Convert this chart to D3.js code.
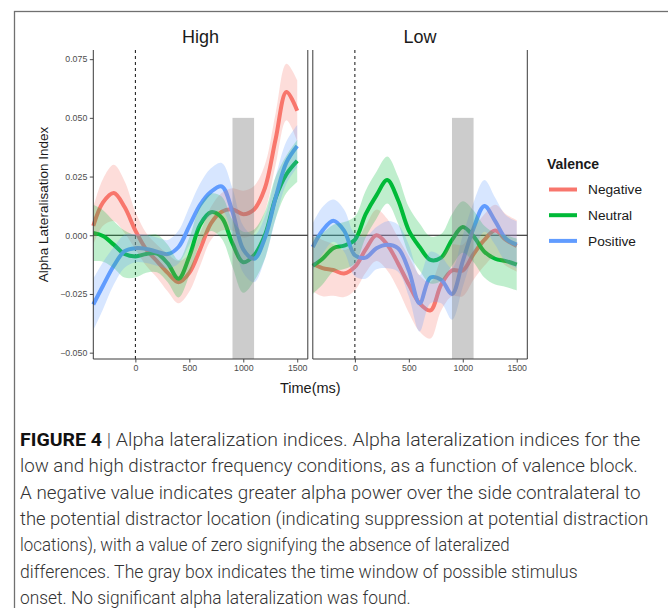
<!DOCTYPE html>
<meta charset="utf-8">
<head>
  <title>Alpha lateralization indices</title>
  <style>
    body { margin: 0; background: #fff; }
    svg { display: block; }
  </style>
</head>
<body>
<script src="https://d3js.org/d3.v7.min.js"></script>
<script>
var WIDTH = 668,
    HEIGHT = 608,
    PANEL_W = 214.5,
    PANEL_TOP = 50,
    PANEL_BOTTOM = 359;

// time axis (ms) shared by every series
var times = [-390, -300, -200, -100, 0, 100, 200, 300, 400, 500, 600, 700, 800, 900, 1000, 1100, 1200, 1300, 1400, 1500];

var valences = ["Negative", "Neutral", "Positive"];
var colours = ["#F8766D", "#00BA38", "#619CFF"];

// High distractor frequency: mean index and ribbon half width
var highNegative   = [0.004, 0.014, 0.018, 0.012, 0.002, -0.006, -0.011, -0.016, -0.020, -0.016, -0.006, 0.005, 0.010, 0.011, 0.009, 0.011, 0.020, 0.041, 0.061, 0.053];
var highNeutral    = [0.001, -0.0003, -0.004, -0.008, -0.009, -0.008, -0.0078, -0.012, -0.0185, -0.009, 0.0045, 0.0098, 0.0075, -0.0035, -0.0115, -0.0085, 0.0, 0.016, 0.026, 0.0317];
var highPositive   = [-0.0295, -0.0215, -0.013, -0.0068, -0.0055, -0.0058, -0.007, -0.008, -0.005, 0.004, 0.013, 0.0185, 0.0208, 0.010, -0.006, -0.010, -0.0012, 0.016, 0.031, 0.038];
var highNegativeCI = [0.008, 0.010, 0.012, 0.011, 0.008, 0.007, 0.007, 0.008, 0.009, 0.008, 0.007, 0.007, 0.008, 0.009, 0.010, 0.010, 0.010, 0.011, 0.012, 0.013];
var highNeutralCI  = [0.012, 0.011, 0.010, 0.010, 0.009, 0.008, 0.008, 0.008, 0.008, 0.008, 0.008, 0.008, 0.009, 0.010, 0.013, 0.011, 0.010, 0.009, 0.008, 0.009];
var highPositiveCI = [0.011, 0.010, 0.008, 0.007, 0.006, 0.006, 0.006, 0.006, 0.007, 0.008, 0.009, 0.010, 0.010, 0.010, 0.010, 0.010, 0.009, 0.009, 0.009, 0.009];

// Low distractor frequency
var lowNegative   = [-0.012, -0.014, -0.0148, -0.0163, -0.0135, -0.006, 0.0, -0.004, -0.012, -0.021, -0.029, -0.032, -0.021, -0.015, -0.015, -0.008, -0.002, 0.002, -0.002, -0.0045];
var lowNeutral    = [-0.013, -0.010, -0.0055, -0.0044, -0.002, 0.009, 0.017, 0.0235, 0.015, 0.002, -0.005, -0.0105, -0.0095, -0.002, 0.0035, -0.0005, -0.007, -0.010, -0.011, -0.0125];
var lowPositive   = [-0.005, 0.002, 0.0062, 0.002, -0.0085, -0.0095, -0.0055, -0.004, -0.0055, -0.015, -0.029, -0.018, -0.019, -0.025, -0.011, 0.003, 0.0125, 0.006, -0.0015, -0.004];
var lowNegativeCI = [0.012, 0.012, 0.011, 0.010, 0.010, 0.010, 0.011, 0.011, 0.011, 0.012, 0.012, 0.012, 0.011, 0.011, 0.011, 0.011, 0.011, 0.011, 0.011, 0.011];
var lowNeutralCI  = [0.012, 0.011, 0.010, 0.010, 0.010, 0.010, 0.010, 0.010, 0.010, 0.010, 0.010, 0.010, 0.010, 0.011, 0.011, 0.011, 0.011, 0.011, 0.011, 0.011];
var lowPositiveCI = [0.010, 0.010, 0.009, 0.009, 0.009, 0.009, 0.009, 0.010, 0.010, 0.011, 0.012, 0.011, 0.010, 0.011, 0.011, 0.011, 0.011, 0.010, 0.010, 0.010];

var yTicks = [-0.050, -0.025, 0.000, 0.025, 0.050, 0.075];
var xTicks = [0, 500, 1000, 1500];
var onsetWindow = [900, 1100];
var onsetTop = 0.05;

var captionLines = [
  ["FIGURE 4", "Alpha lateralization indices. Alpha lateralization indices for the"],
  [null, "low and high distractor frequency conditions, as a function of valence block."],
  [null, "A negative value indicates greater alpha power over the side contralateral to"],
  [null, "the potential distractor location (indicating suppression at potential distraction"],
  [null, "locations), with a value of zero signifying the absence of lateralized"],
  [null, "differences. The gray box indicates the time window of possible stimulus"],
  [null, "onset. No significant alpha lateralization was found."]
];
var captionEnds = [641, 638, 641, 649, 510, 578, 411];

var panels = [
  {name: "High", left: 93.3, yAxis: true,
   means: [highNegative, highNeutral, highPositive],
   cis: [highNegativeCI, highNeutralCI, highPositiveCI]},
  {name: "Low", left: 312.8, yAxis: false,
   means: [lowNegative, lowNeutral, lowPositive],
   cis: [lowNegativeCI, lowNeutralCI, lowPositiveCI]}
];

var svg = d3.select("body").append("svg")
    .attr("width", WIDTH)
    .attr("height", HEIGHT)
    .style("font-family", "'Liberation Sans', Arial, sans-serif");

// outer frame of the figure
svg.append("rect")
    .attr("x", 14.5).attr("y", 11.5)
    .attr("width", 680).attr("height", 640)
    .attr("fill", "none")
    .attr("stroke", "#707070")
    .attr("stroke-width", 1.3);

var y = d3.scaleLinear()
    .domain([-0.0527, 0.0789])
    .range([PANEL_BOTTOM, PANEL_TOP]);

panels.forEach(function(p) {
  var x = d3.scaleLinear()
      .domain([-390, 1598])
      .range([p.left, p.left + PANEL_W]);

  var g = svg.append("g");

  // strip title
  g.append("text")
      .attr("x", p.left + PANEL_W / 2)
      .attr("y", 43)
      .attr("text-anchor", "middle")
      .style("font-size", "18px")
      .attr("fill", "#1a1a1a")
      .text(p.name);

  // zero line and stimulus onset marker
  g.append("line")
      .attr("x1", p.left).attr("x2", p.left + PANEL_W)
      .attr("y1", y(0)).attr("y2", y(0))
      .attr("stroke", "#111").attr("stroke-width", 1);
  g.append("line")
      .attr("x1", x(0)).attr("x2", x(0))
      .attr("y1", PANEL_TOP).attr("y2", PANEL_BOTTOM)
      .attr("stroke", "#111").attr("stroke-width", 1)
      .attr("stroke-dasharray", "3,3");

  var line = d3.line()
      .x(function(d) { return x(d[0]); })
      .y(function(d) { return y(d[1]); })
      .curve(d3.curveCatmullRom.alpha(0.5));

  var area = d3.area()
      .x(function(d) { return x(d[0]); })
      .y0(function(d) { return y(d[1] - d[2]); })
      .y1(function(d) { return y(d[1] + d[2]); })
      .curve(d3.curveCatmullRom.alpha(0.5));

  var rows = p.means.map(function(m, k) {
    return times.map(function(t, i) { return [t, m[i], p.cis[k][i]]; });
  });

  rows.forEach(function(r, k) {
    g.append("path")
        .attr("d", line(r))
        .attr("fill", "none")
        .attr("stroke", colours[k])
        .attr("stroke-width", 4)
        .attr("stroke-linejoin", "round");
  });

  rows.forEach(function(r, k) {
    g.append("path")
        .attr("d", area(r))
        .attr("fill", colours[k])
        .attr("fill-opacity", 0.25);
  });

  // possible onset window
  g.append("rect")
      .attr("x", x(onsetWindow[0]))
      .attr("width", x(onsetWindow[1]) - x(onsetWindow[0]))
      .attr("y", y(onsetTop))
      .attr("height", PANEL_BOTTOM - y(onsetTop))
      .attr("fill", "#7f7f7f")
      .attr("fill-opacity", 0.4);

  // axes
  var xAxis = g.append("g")
      .attr("transform", "translate(0," + PANEL_BOTTOM + ")")
      .call(d3.axisBottom(x).tickValues(xTicks).tickFormat(d3.format("d"))
        .tickSize(3.5).tickPadding(2.5).tickSizeOuter(0));
  xAxis.select(".domain").remove();
  xAxis.selectAll("text").style("font-size", "8.8px").attr("fill", "#4d4d4d");
  xAxis.selectAll("line").attr("stroke", "#4d4d4d");

  if (p.yAxis) {
    var yAxis = g.append("g")
        .attr("transform", "translate(" + p.left + ",0)")
        .call(d3.axisLeft(y).tickValues(yTicks).tickFormat(d3.format(".3f")).tickSize(3.5).tickPadding(2.5));
    yAxis.select(".domain").remove();
    yAxis.selectAll("text").style("font-size", "8.8px").attr("fill", "#4d4d4d");
    yAxis.selectAll("line").attr("stroke", "#4d4d4d");
  }

  // panel lines: left, right, bottom
  g.append("path")
      .attr("d", "M" + p.left + "," + PANEL_TOP + "V" + PANEL_BOTTOM + "H" + (p.left + PANEL_W) + "V" + PANEL_TOP)
      .attr("fill", "none")
      .attr("stroke", "#3a3a3a")
      .attr("stroke-width", 1);
});

// axis titles
svg.append("text")
    .attr("x", (93.3 + 527.3) / 2)
    .attr("y", 393)
    .attr("text-anchor", "middle")
    .style("font-size", "14.5px")
    .attr("fill", "#1a1a1a")
    .text("Time(ms)");

svg.append("text")
    .attr("transform", "translate(48," + (PANEL_TOP + PANEL_BOTTOM) / 2 + ") rotate(-90)")
    .attr("text-anchor", "middle")
    .style("font-size", "13.5px")
    .attr("fill", "#1a1a1a")
    .text("Alpha Lateralisation Index");

// legend
var legend = svg.append("g").attr("transform", "translate(547,0)");
legend.append("text")
    .attr("x", 0).attr("y", 169)
    .style("font-size", "14px")
    .style("font-weight", "bold")
    .attr("fill", "#1a1a1a")
    .text("Valence");

valences.forEach(function(v, i) {
  var ly = 189.5 + i * 25.7;
  legend.append("line")
      .attr("x1", 2).attr("x2", 30)
      .attr("y1", ly).attr("y2", ly)
      .attr("stroke", colours[i])
      .attr("stroke-width", 4);
  legend.append("text")
      .attr("x", 41).attr("y", ly)
      .attr("dy", "0.36em")
      .style("font-size", "13.7px")
      .attr("fill", "#1a1a1a")
      .text(v);
});

// caption, each line stretched to the width it has in the figure
captionLines.forEach(function(c, i) {
  var t = svg.append("text")
      .attr("x", 0).attr("y", 0)
      .style("font-family", "Roboto, 'Liberation Sans', sans-serif")
      .style("font-size", "17.5px")
      .style("font-weight", 300)
      .attr("fill", "#333");
  if (c[0]) {
    t.append("tspan").style("font-weight", "bold").attr("fill", "#111").text(c[0]);
    t.append("tspan").attr("fill", "#555").text(" | ");
  }
  t.append("tspan").text(c[1]);
  var w = t.node().getBBox().width;
  var sx = (captionEnds[i] - 20) / w;
  t.attr("transform", "translate(20," + (446 + i * 26.3) + ") scale(" + sx + ",1)");
});
</script>
